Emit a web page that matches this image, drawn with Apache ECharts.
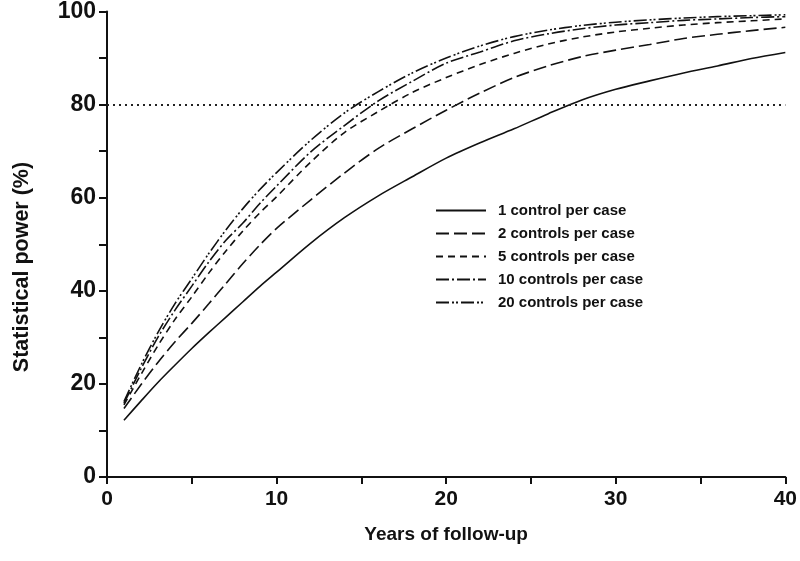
<!DOCTYPE html>
<html>
<head>
<meta charset="utf-8">
<script src="https://cdn.jsdelivr.net/npm/echarts@6/dist/echarts.min.js"></script>
<style>
html,body{margin:0;padding:0;background:#fff;}
#chart{width:800px;height:561px;}
</style>
</head>
<body>
<div id="chart"></div>
<script>
// Years of follow-up at which power was read
const years = [1,2,3,4,5,6,7,8,9,10,12,14,16,18,20,22,24,26,28,30,32,34,36,38,40];
// Statistical power (%) per design
const power1  = [12.2,16.3,20.3,24.0,27.6,31.0,34.3,37.6,40.9,44.0,50.2,55.7,60.4,64.5,68.5,71.8,74.8,78.0,81.0,83.3,85.1,86.8,88.3,89.9,91.2];
const power2  = [14.7,19.8,24.6,29.0,33.0,37.2,41.5,45.8,49.8,53.4,59.5,65.3,70.6,74.8,78.8,82.5,85.8,88.3,90.3,91.7,92.9,94.2,95.1,95.9,96.6];
const power5  = [15.5,22.0,28.2,33.8,38.7,43.8,48.5,52.8,56.7,60.2,67.6,74.0,78.5,82.6,85.8,88.6,91.0,93.0,94.5,95.6,96.4,97.1,97.6,98.0,98.4];
const power10 = [15.8,23.2,30.0,35.8,41.0,46.2,50.8,54.5,58.7,62.5,69.8,75.5,80.8,85.0,88.9,91.3,93.7,95.2,96.3,97.1,97.6,98.1,98.4,98.7,98.9];
const power20 = [16.2,24.0,31.0,37.2,42.6,48.0,53.0,57.6,61.7,65.4,72.3,78.2,82.8,86.8,90.0,92.6,94.6,96.0,97.0,97.7,98.2,98.6,98.9,99.1,99.3];
const seriesNames = ['1 control per case','2 controls per case','5 controls per case','10 controls per case','20 controls per case'];
const threshold = 80;
const xTitle = 'Years of follow-up';
const yTitle = 'Statistical power (%)';

const dashes = ['solid',[13,5],[7,5],[13,3,2,3],[13,3,2,2,2,3]];
const allPower = [power1,power2,power5,power10,power20];
const FONT = '"Liberation Sans", Arial, sans-serif';

const series = allPower.map((arr, i) => ({
  name: seriesNames[i],
  type: 'line',
  data: years.map((y, j) => [y, arr[j]]),
  smooth: 0.3,
  showSymbol: false,
  symbol: 'none',
  lineStyle: {color: '#111', width: 1.6, type: dashes[i]},
  itemStyle: {color: '#111'},
  z: 3
}));
series[0].markLine = {
  silent: true,
  symbol: ['none','none'],
  label: {show: false},
  lineStyle: {color: '#222', width: 2, type: [2,4]},
  data: [{yAxis: threshold}]
};

const chart = echarts.init(document.getElementById('chart'));
chart.setOption({
  animation: false,
  backgroundColor: '#fff',
  grid: {left: 107, right: 12, top: 9, bottom: 84, containLabel: false},
  legend: {
    orient: 'vertical',
    left: 430, top: 198,
    itemWidth: 50, itemHeight: 14, itemGap: 8,
    itemStyle: {opacity: 0},
    textStyle: {fontFamily: FONT, fontWeight: 'bold', fontSize: 15, color: '#111', padding: [0,0,0,7]},
    data: seriesNames
  },
  xAxis: {
    type: 'value', min: 0, max: 40, interval: 5,
    axisLine: {show: true, onZero: false, lineStyle: {color: '#111', width: 2}},
    axisTick: {show: true, length: 7, lineStyle: {color: '#111', width: 2}},
    axisLabel: {margin: 12, fontFamily: FONT, fontWeight: 'bold', fontSize: 21, color: '#111',
      formatter: v => (v % 10 === 0 ? String(v) : '')},
    splitLine: {show: false},
    name: xTitle, nameLocation: 'middle', nameGap: 48,
    nameTextStyle: {fontFamily: FONT, fontWeight: 'bold', fontSize: 19, color: '#111'}
  },
  yAxis: {
    type: 'value', min: 0, max: 100, interval: 10,
    axisLine: {show: true, onZero: false, lineStyle: {color: '#111', width: 2}},
    axisTick: {show: true, length: 8, lineStyle: {color: '#111', width: 2}},
    axisLabel: {margin: 11, fontFamily: FONT, fontWeight: 'bold', fontSize: 23, color: '#111',
      formatter: v => (v % 20 === 0 ? String(v) : '')},
    splitLine: {show: false}
  },
  graphic: [{
    type: 'text',
    x: 22, y: 267,
    rotation: Math.PI / 2,
    style: {text: yTitle, fontFamily: FONT, fontWeight: 'bold', fontSize: 21.5, fill: '#111',
      textAlign: 'center', textVerticalAlign: 'middle'}
  }],
  series: series
});
</script>
</body>
</html>
